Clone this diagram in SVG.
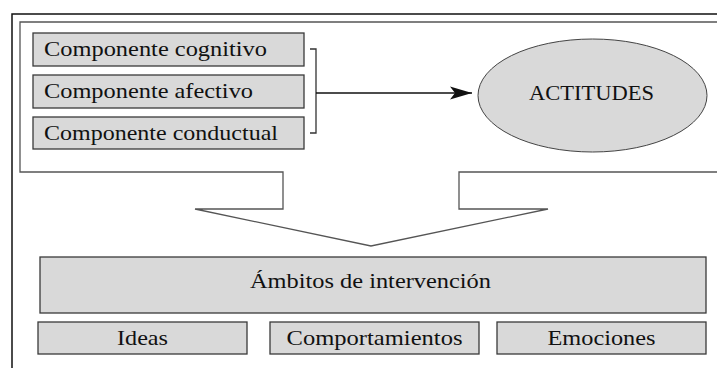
<svg xmlns="http://www.w3.org/2000/svg" width="717" height="368" viewBox="0 0 717 368">
<style>
.box{fill:#d9d9d9;stroke:#3a3a3a;stroke-width:1.3}
.t{font-family:"Liberation Serif","Times New Roman",serif;font-size:22px;fill:#111}
.c{text-anchor:middle}
.conn{fill:none;stroke:#333;stroke-width:1.3}
</style>
<defs>
<marker id="ah" markerWidth="24" markerHeight="14" refX="22" refY="7" orient="auto" markerUnits="userSpaceOnUse">
<path d="M0,0.5 L22,7 L0,13.5 L5,7 Z" fill="#111"/>
</marker>
</defs>
<rect width="717" height="368" fill="#fff"/>
<g id="frame">
<rect x="12" y="14" width="720" height="370" fill="none" stroke="#111" stroke-width="1.5"/>
<path d="M20,22 L740,22 L740,172 L459,172 L459,209 L548,209 L371,246 L195,209 L283,209 L283,172 L20,172 Z" fill="none" stroke="#555" stroke-width="1.3"/>
</g>
<g id="comp-cognitivo">
<rect class="box" x="33" y="33" width="271" height="33"/>
<text class="t" x="44" y="55.5" textLength="223" lengthAdjust="spacingAndGlyphs">Componente cognitivo</text>
</g>
<g id="comp-afectivo">
<rect class="box" x="33" y="75" width="271" height="33"/>
<text class="t" x="44" y="97.5" textLength="209" lengthAdjust="spacingAndGlyphs">Componente afectivo</text>
</g>
<g id="comp-conductual">
<rect class="box" x="33" y="117" width="271" height="32"/>
<text class="t" x="44" y="139.5" textLength="234" lengthAdjust="spacingAndGlyphs">Componente conductual</text>
</g>
<g id="actitudes">
<ellipse cx="592.5" cy="95.5" rx="114.5" ry="56.5" fill="#d9d9d9" stroke="#444" stroke-width="1"/>
<text class="t c" x="591.5" y="100" textLength="125" lengthAdjust="spacingAndGlyphs">ACTITUDES</text>
</g>
<g id="connectors">
<path class="conn" d="M310,49 L316,49 L316,133 L310,133"/>
<line x1="316" y1="93" x2="472" y2="93" stroke="#111" stroke-width="1.3" marker-end="url(#ah)"/>
</g>
<g id="ambitos">
<rect class="box" x="40" y="257" width="666" height="56"/>
<text class="t c" x="370.5" y="287.5" textLength="241" lengthAdjust="spacingAndGlyphs">Ámbitos de intervención</text>
</g>
<g id="ideas">
<rect class="box" x="38" y="322" width="209" height="32"/>
<text class="t c" x="142.5" y="344.5" textLength="51" lengthAdjust="spacingAndGlyphs">Ideas</text>
</g>
<g id="comportamientos">
<rect class="box" x="270" y="322" width="209" height="32"/>
<text class="t c" x="374.5" y="344.5" textLength="176" lengthAdjust="spacingAndGlyphs">Comportamientos</text>
</g>
<g id="emociones">
<rect class="box" x="497" y="322" width="209" height="32"/>
<text class="t c" x="601.5" y="344.5" textLength="108" lengthAdjust="spacingAndGlyphs">Emociones</text>
</g>
</svg>
